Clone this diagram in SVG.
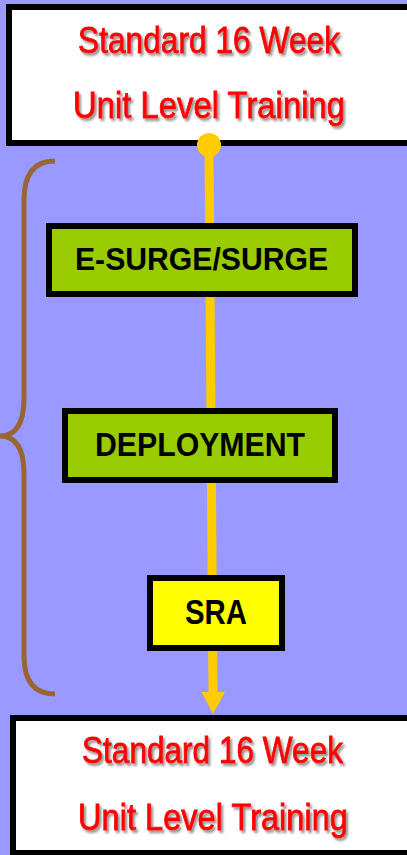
<svg xmlns="http://www.w3.org/2000/svg" width="407" height="855" viewBox="0 0 407 855">
  <defs>
    <filter id="sh" x="-10%" y="-30%" width="120%" height="160%">
      <feDropShadow dx="2" dy="2.5" stdDeviation="1.2" flood-color="#777777" flood-opacity="0.8"/>
    </filter>
  </defs>
  <style>
    .bg { fill: #9999FF; }
    .endbox { fill: #FFFFFF; stroke: #000000; stroke-width: 6; }
    .title { font-family: "Liberation Sans Narrow", "Liberation Sans", Arial, sans-serif; font-size: 36px; fill: #FF0000; stroke: #FF0000; stroke-width: 0.9; filter: url(#sh); }
    .green { fill: #99CC00; stroke: #000000; stroke-width: 6; }
    .yellow { fill: #FFFF00; stroke: #000000; stroke-width: 6; }
    .lbl { font-family: "Liberation Sans", Arial, sans-serif; font-weight: bold; fill: #000000; }
    .flow { stroke: #FFCC00; stroke-width: 9; fill: none; }
    .brace { stroke: #996633; stroke-width: 5; fill: none; }
  </style>
  <rect class="bg" x="0" y="0" width="407" height="855"/>

  <g id="top-box">
    <rect class="endbox" x="9" y="7" width="410" height="136"/>
    <text class="title" x="78" y="53" textLength="262" lengthAdjust="spacingAndGlyphs">Standard 16 Week</text>
    <text class="title" x="73" y="118" textLength="272" lengthAdjust="spacingAndGlyphs">Unit Level Training</text>
  </g>

  <g id="connectors">
    <path class="flow" d="M209,145 L213,693"/>
    <circle cx="209" cy="145" r="12" fill="#FFCC00"/>
    <polygon points="201.5,692 225,692 213,714" fill="#FFCC00"/>
  </g>

  <g id="brace">
    <path class="brace" d="M55,161 Q24,161 24,200 L24,398 Q24,436 0,436 Q24,436 24,474 L24,656 Q24,694 55,694"/>
  </g>

  <g id="esurge">
    <rect class="green" x="49" y="226" width="306" height="68"/>
    <text class="lbl" x="75" y="270" font-size="32" textLength="253" lengthAdjust="spacingAndGlyphs">E-SURGE/SURGE</text>
  </g>

  <g id="deployment">
    <rect class="green" x="65" y="411" width="270" height="69"/>
    <text class="lbl" x="95" y="456" font-size="34" textLength="210" lengthAdjust="spacingAndGlyphs">DEPLOYMENT</text>
  </g>

  <g id="sra">
    <rect class="yellow" x="150" y="578" width="132" height="70"/>
    <text class="lbl" x="185" y="624" font-size="35" textLength="62" lengthAdjust="spacingAndGlyphs">SRA</text>
  </g>

  <g id="bottom-box">
    <rect class="endbox" x="13" y="718" width="410" height="135"/>
    <text class="title" x="82" y="763" textLength="261" lengthAdjust="spacingAndGlyphs">Standard 16 Week</text>
    <text class="title" x="78" y="830" textLength="270" lengthAdjust="spacingAndGlyphs">Unit Level Training</text>
  </g>
</svg>
